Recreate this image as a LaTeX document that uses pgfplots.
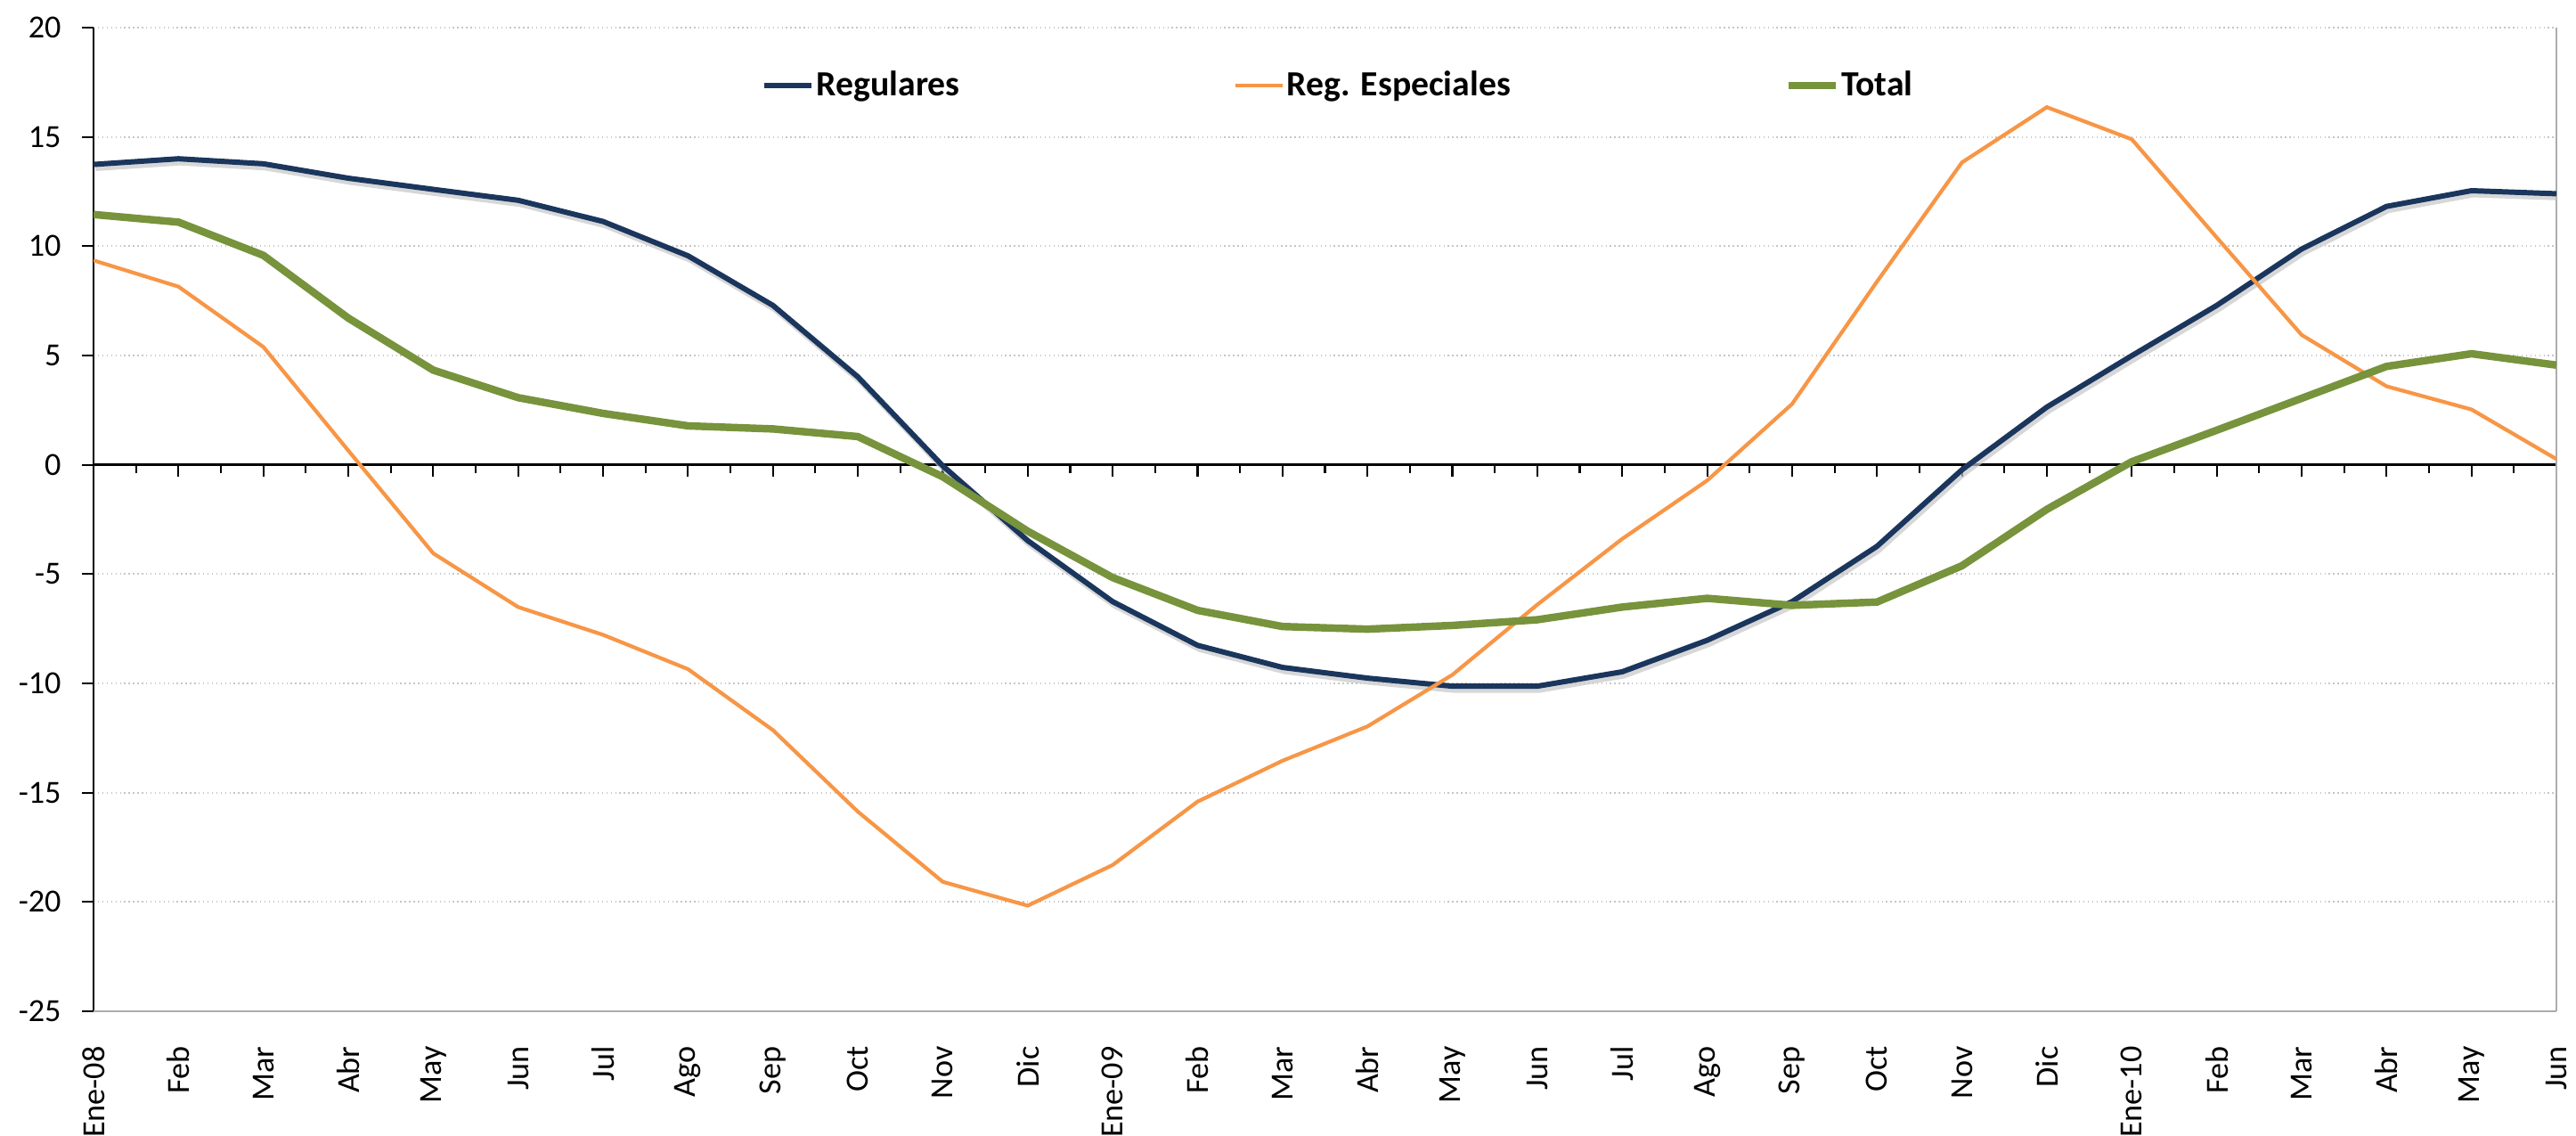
\documentclass[border=0pt]{standalone}
\usepackage{fontspec}
\setmainfont{Carlito}
\usepackage{pgfplots}
\usepackage{pgfplotstable}
\pgfplotsset{compat=1.18}
\definecolor{navy}{HTML}{1B365D}
\definecolor{orng}{HTML}{F79646}
\definecolor{grn}{HTML}{77933C}

\pgfplotstableread{
x reg esp tot
0 13.74 9.35 11.45
1 14.00 8.15 11.10
2 13.77 5.39 9.58
3 13.11 0.65 6.71
4 12.60 -4.05 4.33
5 12.10 -6.51 3.07
6 11.13 -7.78 2.35
7 9.56 -9.35 1.78
8 7.29 -12.14 1.64
9 4.02 -15.87 1.29
10 -0.05 -19.08 -0.55
11 -3.47 -20.17 -3.04
12 -6.26 -18.31 -5.16
13 -8.26 -15.41 -6.66
14 -9.27 -13.54 -7.40
15 -9.76 -11.97 -7.52
16 -10.13 -9.61 -7.35
17 -10.13 -6.40 -7.09
18 -9.47 -3.39 -6.51
19 -8.03 -0.72 -6.11
20 -6.26 2.78 -6.43
21 -3.73 8.38 -6.28
22 -0.23 13.83 -4.62
23 2.64 16.36 -2.04
24 4.99 14.89 0.14
25 7.29 10.40 1.58
26 9.87 5.94 3.04
27 11.82 3.59 4.50
28 12.54 2.53 5.08
29 12.40 0.26 4.56
}\data

\begin{document}
\begin{tikzpicture}
\pgfplotsset{common/.style={scale only axis, width=27.65cm, height=11.04cm,
  xmin=0, xmax=29, ymin=-25, ymax=20, at={(0,0)}, anchor=south west}}
% background axis: grid, border, black y axis, zero line with ticks
\begin{axis}[common,
  axis x line=middle, axis y line=left,
  axis line style={-, black, line width=0.7pt},
  xtick={0,...,29}, minor x tick num=1,
  ytick={-20,-15,...,20},
  extra y ticks={-25},
  extra y tick style={grid style={solid, gray!65, line width=0.7pt}},
  extra x ticks={29},
  extra x tick style={xmajorgrids=true, major tick length=0pt, grid style={solid, gray!65, line width=0.7pt}},
  xticklabels={}, yticklabels={},
  extra x tick labels={}, extra y tick labels={},
  tick align=outside,
  major tick length=0.13cm, minor tick length=0.09cm,
  tick style={black, line width=0.6pt},
  ymajorgrids, grid style={densely dotted, gray!45, line width=0.6pt},
  hide obscured x ticks=false,
]
\end{axis}
% main axis: labels, data
\begin{axis}[common, name=ax,
  axis line style={draw=none},
  xtick={0,...,29},
  xticklabels={Ene-08,Feb,Mar,Abr,May,Jun,Jul,Ago,Sep,Oct,Nov,Dic,Ene-09,Feb,Mar,Abr,May,Jun,Jul,Ago,Sep,Oct,Nov,Dic,Ene-10,Feb,Mar,Abr,May,Jun},
  ytick={-25,-20,...,20},
  major tick length=0pt,
  tick style={draw=none},
  tick label style={font=\fontsize{10.3}{12}\selectfont},
  /pgf/number format/assume math mode=true,
  xticklabel style={rotate=90, anchor=east},
  xticklabel shift=0.27cm,
  yticklabel shift=0.24cm,
  legend columns=3,
  legend style={draw=none, fill=none, inner sep=0pt, at={(0.2711,0.941)}, anchor=west,
    font=\bfseries\fontsize{11.3}{13}\selectfont, nodes={inner sep=0.7pt},
    /tikz/every even column/.append style={column sep=3.05cm}},
  legend image code/.code={\draw[#1] (0cm,0cm) -- (0.53cm,0cm);},
]
\addplot[gray!45, opacity=0.7, line width=1.7pt, forget plot, xshift=0.02cm, yshift=-0.045cm] table[x=x,y=reg]{\data};
\addplot[navy, line width=1.7pt] table[x=x,y=reg]{\data};
\addlegendentry{Regulares}
\addplot[orng, line width=1.2pt] table[x=x,y=esp]{\data};
\addlegendentry{Reg. Especiales}
\addplot[grn, line width=2.4pt] table[x=x,y=tot]{\data};
\addlegendentry{Total}
\end{axis}
\pgfresetboundingbox
\path ([shift={(-1.05cm,-1.40cm)}]ax.south west) rectangle ([shift={(0.22cm,0.31cm)}]ax.north east);
\end{tikzpicture}
\end{document}
